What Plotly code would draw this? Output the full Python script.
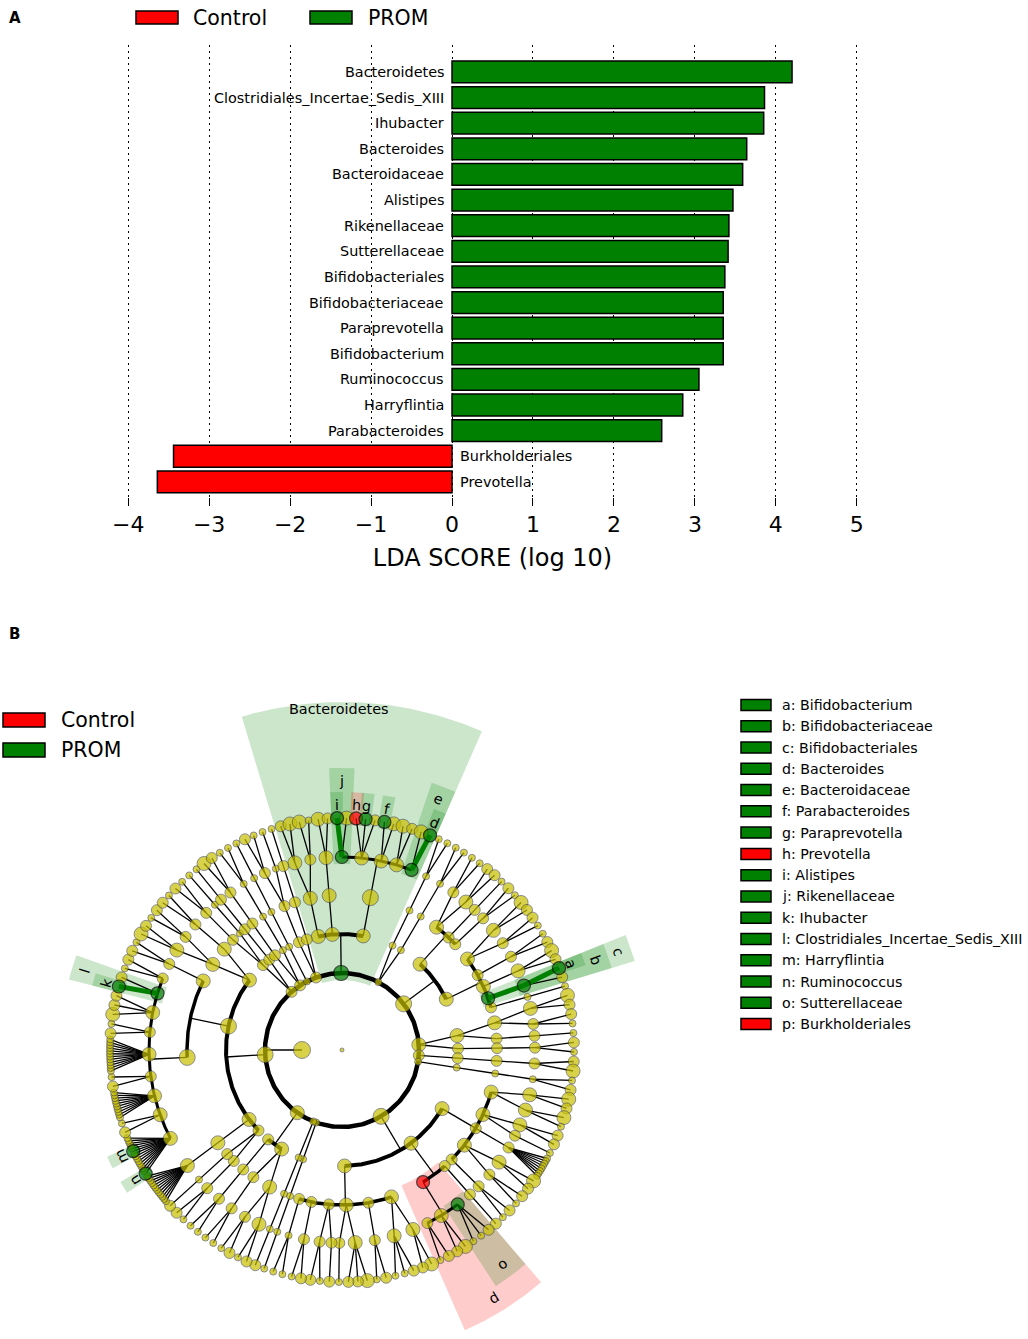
import numpy as np
import plotly.graph_objects as go

FONT = "DejaVu Sans"
W, H = 1028, 1339

# ---------- Панель A: LDA-оценки ----------
taxa = ["Bacteroidetes", "Clostridiales_Incertae_Sedis_XIII", "Ihubacter", "Bacteroides",
        "Bacteroidaceae", "Alistipes", "Rikenellaceae", "Sutterellaceae", "Bifidobacteriales",
        "Bifidobacteriaceae", "Paraprevotella", "Bifidobacterium", "Ruminococcus",
        "Harryflintia", "Parabacteroides", "Burkholderiales", "Prevotella"]
lda_score = [4.20, 3.86, 3.85, 3.64, 3.59, 3.47, 3.42, 3.41, 3.37, 3.35, 3.35, 3.35,
             3.05, 2.85, 2.59, -3.44, -3.64]
lda_ticks = [-4, -3, -2, -1, 0, 1, 2, 3, 4, 5]
groups = ["Control", "PROM"]
group_colors = {"Control": "#ff0000", "PROM": "#008000"}
shade_colors = {"Control": "rgba(255,0,0,0.2)", "PROM": "rgba(0,128,0,0.2)"}

# ---------- Панель B: кладограмма ----------
marker_letters = list("abcdefghijklmnop")
marker_taxa = ["Bifidobacterium", "Bifidobacteriaceae", "Bifidobacteriales", "Bacteroides",
               "Bacteroidaceae", "Parabacteroides", "Paraprevotella", "Prevotella", "Alistipes",
               "Rikenellaceae", "Ihubacter", "Clostridiales_Incertae_Sedis_XIII", "Harryflintia",
               "Ruminococcus", "Sutterellaceae", "Burkholderiales"]

# дерево: [размер, дети...]; лист - размер; строка - выделенный таксон
bacteroidetes = ["Bacteroidetes",
                 [3, [3, [3, 2, 3], [2, 3, 1]]],
                 [3, [3, [3, 3, 2]]],
                 [3, [4, ["j", "i", 3], [3, "h", "g", 2], [3, "f", 3], [3, 3, 2], ["e", 3, "d"]]]]
phylum_b = [1, [1, [1, [1, 1, 1]]], [1, [1, [1, 1, 1]]]]
actinobacteria = [4,
                  [3, [3, [2, 1, 1], [3, 2, 2]], [2, [2, 1]], [2, [2, 2, 1]]],
                  [3, [3, [3, 3, 2], [2, 2, 1]], [2, [2, 1, 2]], [3, [3, 3, 2]],
                   ["c", ["b", "a", 2]], [2, [1, 1]]]]
phylum_d = [3, [3, [3, [3, 3, 2], [2, 2, 1]], [2, [2, 1]]], [2, [2, [2, 2, 1]]]]
phylum_e1 = [2, [2, [2, [2, 2, 3]]]]
phylum_e2 = [1, [1, [1, [1, 1, 2]]]]
proteobacteria = [4,
                  [3, [3, [3, 3, 2], [3, 3, 1]], [3, [3, 2, 2], [2, 1]],
                   [2, [2, 1, 1, 1, 1, 1, 1, 1, 1]], [3, [3, 3, 2], [2, 2, 1]], [2, [2, 2, 1]]],
                  [3, [2, [2, 2]], ["p", ["o", 2, 1, 1], [3, 3, 2], [2, 2, 1]]],
                  [3, [3, [3, 3, 2], [3, 2, 1, 1]], [2, [2, 2, 1]], [3, [3, 3, 2, 2], [2, 1]],
                   [2, [2, 2], [2, 1, 2]], [2, [2, 2, 1]], [2, [1, 1, 1]]]]
phylum_g1 = [1, [1, [1, [1, 1]]]]
phylum_g2 = [1, [1, [1, [1, 2]]]]
phylum_g3 = [3, [3, [3, [3, 2, 1], [2, 2, 1]], [2, [2, 1, 1]]], [2, [2, [2, 1, 1]]]]
firmicutes = [4,
              [2, [2, [2, 1, 2]], [2, [1, 2]]],
              [3, [3, [3, 1, 1, 1, 1, 1, 1, 1, 1, 1, 1, 1, 1]]],
              [4, [4, [3, "n", 1, 1, 1, 1, 1, 1, 1, 1, "m", 1, 1, 1, 1, 1],
                   [3, 2, 1],
                   [3, 1, 1, 1, 1, 1, 1, 1, 1, 1, 1],
                   [2, 2, 1],
                   [3, 1, 1, 1, 1, 1, 1, 1, 1, 1, 1, 1, 1],
                   [2, 2, 1],
                   [3, 3, 2, 2],
                   ["l", "k", 2],
                   [2, 1, 2]],
               [3, [2, 2, 1]]],
              [3, [3, [3, 3, 2], [2, 1, 2]], [3, [2, 2, 1]]]]
phylum_i1 = [2, [2, [2, [2, 2, 1]], [1, [1, 1]]], [2, [2, [2, 1]]]]
phylum_i2 = [2, [2, [2, [2, 3, 2]]], [1, [1, [1, 1, 1]]]]
phylum_i3 = [1, [1, [1, [1, 1]]]]
phylum_i4 = [2, [2, [2, [2, 2, 1], [1, 1]]], [2, [2, [2, 1]]]]
phyla = [bacteroidetes, phylum_b, actinobacteria, phylum_d, phylum_e1, phylum_e2,
         proteobacteria, phylum_g1, phylum_g2, phylum_g3, firmicutes,
         phylum_i1, phylum_i2, phylum_i3, phylum_i4]

# геометрия кладограммы (в пикселях)
CENTER = (342, 1050)
RADII = [0, 77, 116, 155, 193, 232]
KINGDOM_R, KINGDOM_ANGLE = 40, 180
START_ANGLE = 106.5
SIZE_PX = {0: 4, 1: 7, 2: 11, 3: 14, 4: 16}
ARC_W = {0: 4.5, 1: 4, 2: 3.5, 3: 3}


def px(x):
    return x / W


def py(y):
    return 1 - y / H


def pol(r, th):
    t = np.radians(th)
    return r * np.cos(t), r * np.sin(t)


def parse(spec, depth, parent, nodes):
    head = spec[0] if isinstance(spec, list) else spec
    kids = spec[1:] if isinstance(spec, list) else []
    i = len(nodes)
    nodes.append({"depth": depth, "parent": parent, "kids": [],
                  "tag": head if isinstance(head, str) else None,
                  "size": head if isinstance(head, int) else 3})
    for k in kids:
        nodes[i]["kids"].append(parse(k, depth + 1, i, nodes))
    return i


def group_of(tag):
    name = marker_taxa[marker_letters.index(tag)] if len(tag) == 1 else tag
    return "PROM" if lda_score[taxa.index(name)] > 0 else "Control"


nodes = [{"depth": 0, "parent": None, "kids": [], "tag": None, "size": 0}]
for ph in phyla:
    nodes[0]["kids"].append(parse(ph, 1, 0, nodes))

# веса листьев: в "веерах" (много родов у одного семейства) листья плотнее
weights = {}
for i, n in enumerate(nodes):
    if i and not n["kids"]:
        sib = nodes[n["parent"]]["kids"]
        fan = len(sib) >= 6 and all(not nodes[s]["kids"] for s in sib)
        weights[i] = 0.3 if fan else 1.0
slot = 360.0 / sum(weights.values())

theta, hi, lo = {}, {}, {}
cum = 0.0
for i in range(1, len(nodes)):
    if not nodes[i]["kids"]:
        theta[i] = START_ANGLE - (cum + weights[i] / 2) * slot
        hi[i] = lo[i] = theta[i]
        cum += weights[i]
for i in range(len(nodes) - 1, 0, -1):
    k = nodes[i]["kids"]
    if k:
        theta[i] = (theta[k[0]] + theta[k[-1]]) / 2
        hi[i], lo[i] = hi[k[0]], lo[k[-1]]

fig = go.Figure()

# ---- панель A ----
bar_colors = [group_colors["PROM"] if v > 0 else group_colors["Control"] for v in lda_score]
fig.add_trace(go.Bar(x=lda_score, y=taxa, orientation="h", width=0.85,
                     marker=dict(color=bar_colors, line=dict(color="black", width=1.5)),
                     xaxis="x", yaxis="y", showlegend=False))
for name, v in zip(taxa, lda_score):
    fig.add_annotation(x=0, y=name, xref="x", yref="y", text=name, showarrow=False,
                       xanchor="right" if v > 0 else "left", xshift=-6 if v > 0 else 6,
                       font=dict(family=FONT, size=14.4, color="black"))

# ---- панель B: подсветка кладов ----
def label_r(d):
    return 245 + (5 - d) * 24


tagged = [i for i in range(1, len(nodes)) if nodes[i]["tag"]]
for i in sorted(tagged, key=lambda j: nodes[j]["depth"]):
    d = nodes[i]["depth"]
    r0 = RADII[d] - 7
    r1 = label_r(d) + (7 if d == 1 else 13)
    a = np.linspace(lo[i] - 0.6 * slot, hi[i] + 0.6 * slot, 60)
    xs = list(r1 * np.cos(np.radians(a))) + list(r0 * np.cos(np.radians(a[::-1])))
    ys = list(r1 * np.sin(np.radians(a))) + list(r0 * np.sin(np.radians(a[::-1])))
    fig.add_trace(go.Scatter(x=xs + [xs[0]], y=ys + [ys[0]], mode="lines", fill="toself",
                             fillcolor=shade_colors[group_of(nodes[i]["tag"])],
                             line=dict(width=0), xaxis="x2", yaxis="y2",
                             hoverinfo="skip", showlegend=False))

# ---- панель B: ветви ----
thin_x, thin_y = [], []
arcs = {d: ([], []) for d in ARC_W}
hl = {g: ([], []) for g in groups}


def seg(store, pts):
    store[0].extend([p[0] for p in pts] + [None])
    store[1].extend([p[1] for p in pts] + [None])


circle = np.linspace(0, 360, 361)
seg(arcs[0], [pol(RADII[1], t) for t in circle])
seg((thin_x, thin_y), [pol(KINGDOM_R, KINGDOM_ANGLE), pol(RADII[1], KINGDOM_ANGLE)])

for i in range(1, len(nodes)):
    n = nodes[i]
    if not n["kids"]:
        continue
    d = n["depth"]
    kth = [theta[k] for k in n["kids"]]
    span = max(kth) - min(kth)
    if d <= 3 and span > 8:
        seg((thin_x, thin_y), [pol(RADII[d], theta[i]), pol(RADII[d + 1], theta[i])])
        a = np.linspace(min(kth), max(kth), max(3, int(span * 2)))
        seg(arcs[d], [pol(RADII[d + 1], t) for t in a])
    else:
        for k in n["kids"]:
            seg((thin_x, thin_y), [pol(RADII[d], theta[i]), pol(RADII[d + 1], theta[k])])
    for k in n["kids"]:
        if n["tag"] and nodes[k]["tag"] and group_of(n["tag"]) == group_of(nodes[k]["tag"]):
            seg(hl[group_of(n["tag"])], [pol(RADII[d], theta[i]), pol(RADII[d + 1], theta[k])])

fig.add_trace(go.Scatter(x=thin_x, y=thin_y, mode="lines", line=dict(color="black", width=1.3),
                         xaxis="x2", yaxis="y2", hoverinfo="skip", showlegend=False))
for d, (xs, ys) in arcs.items():
    fig.add_trace(go.Scatter(x=xs, y=ys, mode="lines", line=dict(color="black", width=ARC_W[d]),
                             xaxis="x2", yaxis="y2", hoverinfo="skip", showlegend=False))
for g, (xs, ys) in hl.items():
    fig.add_trace(go.Scatter(x=xs, y=ys, mode="lines", line=dict(color=group_colors[g], width=5),
                             xaxis="x2", yaxis="y2", hoverinfo="skip", showlegend=False))

# ---- панель B: узлы ----
nx, ny, ns = [0.0], [0.0], [SIZE_PX[0]]
kx, ky = pol(KINGDOM_R, KINGDOM_ANGLE)
nx.append(kx); ny.append(ky); ns.append(17)
tx, ty, ts, tc = [], [], [], []
for i in range(1, len(nodes)):
    x, y = pol(RADII[nodes[i]["depth"]], theta[i])
    if nodes[i]["tag"]:
        tx.append(x); ty.append(y)
        ts.append(15 if nodes[i]["depth"] == 1 else 13)
        tc.append(group_colors[group_of(nodes[i]["tag"])])
    else:
        nx.append(x); ny.append(y); ns.append(SIZE_PX[nodes[i]["size"]])
fig.add_trace(go.Scatter(x=nx, y=ny, mode="markers",
                         marker=dict(size=ns, color="#c8c000", line=dict(color="#3a3a4a", width=0.8)),
                         xaxis="x2", yaxis="y2", hoverinfo="skip", showlegend=False))
fig.add_trace(go.Scatter(x=tx, y=ty, mode="markers",
                         marker=dict(size=ts, color=tc, line=dict(color="black", width=1.2)),
                         xaxis="x2", yaxis="y2", hoverinfo="skip", showlegend=False))

for i in tagged:
    d = nodes[i]["depth"]
    x, y = pol(label_r(d), theta[i])
    rot = 0 if d == 1 else ((90 - theta[i] + 180) % 360) - 180
    fig.add_annotation(x=x, y=y, xref="x2", yref="y2", text=nodes[i]["tag"], showarrow=False,
                       textangle=rot, font=dict(family=FONT, size=14.4, color="black"))

# ---- легенды и подписи панелей ----
shapes = []


def swatch(x0, y0, x1, y1, color):
    shapes.append(dict(type="rect", xref="paper", yref="paper", x0=px(x0), x1=px(x1),
                       y0=py(y1), y1=py(y0), fillcolor=color, line=dict(color="black", width=1.5)))


def text(x, y, s, size, bold=False):
    fig.add_annotation(x=px(x), y=py(y), xref="paper", yref="paper", xanchor="left",
                       yanchor="middle", showarrow=False, text="<b>%s</b>" % s if bold else s,
                       font=dict(family=FONT, size=size, color="black"))


text(7, 18, "A", 15, bold=True)
text(7, 634, "B", 15, bold=True)
for j, g in enumerate(groups):
    swatch(136 + j * 174, 11, 178 + j * 174, 24, group_colors[g])
    text(191 + j * 175, 18, g, 20.5)
    swatch(3, 713 + j * 30, 45, 727 + j * 30, group_colors[g])
    text(59, 720 + j * 30, g, 20.5)
for j, (letter, name) in enumerate(zip(marker_letters, marker_taxa)):
    yc = 705 + j * 21.27
    swatch(741, yc - 5.5, 771, yc + 5.5, group_colors[group_of(letter)])
    text(780, yc, "%s: %s" % (letter, name), 14.2)

cx, cy = CENTER
fig.update_layout(
    width=W, height=H, margin=dict(l=0, r=0, t=0, b=0),
    paper_bgcolor="white", plot_bgcolor="white",
    font=dict(family=FONT, color="black"), showlegend=False, shapes=shapes,
    xaxis=dict(domain=[px(112), px(873)], anchor="y", range=[-4.2, 5.2], tickvals=lda_ticks,
               showgrid=True, gridcolor="black", griddash="2px,4px", gridwidth=1,
               zeroline=False, showline=False, ticks="outside", ticklen=8, tickcolor="black",
               tickfont=dict(size=22), ticklabelstandoff=0,
               title=dict(text="LDA SCORE (log 10)", font=dict(size=24), standoff=12)),
    yaxis=dict(domain=[py(497), py(45)], anchor="x", range=[16.59, -1.05],
               showticklabels=False, showgrid=False, zeroline=False, showline=False, ticks=""),
    xaxis2=dict(domain=[0, 1], anchor="y2", range=[-cx, W - cx], visible=False),
    yaxis2=dict(domain=[0, py(640)], anchor="x2", range=[cy - H, cy - 640], visible=False),
)

# убираем стандартный отступ страницы, чтобы рисунок занимал окно целиком
fig.write_html("out.html", config={"displayModeBar": False},
               post_script="document.body.style.margin='0';")
